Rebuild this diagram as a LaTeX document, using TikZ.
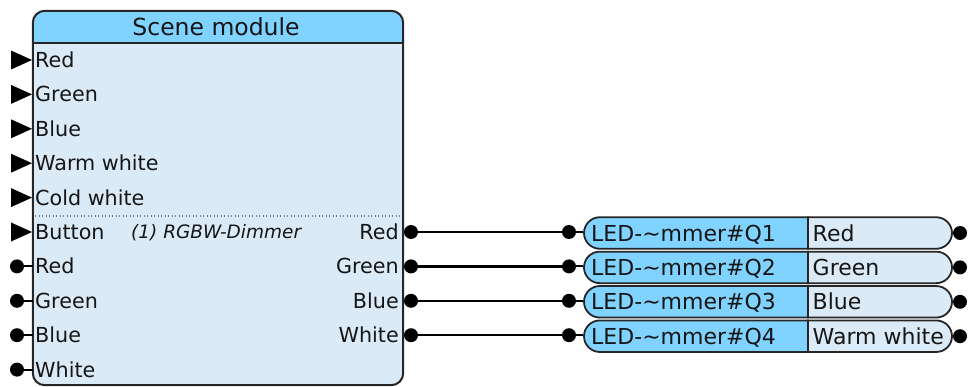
\documentclass[tikz,border=0pt]{standalone}
\usepackage{fontspec}
\setmainfont{DejaVu Sans}
\usetikzlibrary{shapes.misc}
\definecolor{headc}{RGB}{128,210,255}
\definecolor{bodyc}{RGB}{218,235,247}
\definecolor{edgec}{RGB}{38,38,38}
\definecolor{txtc}{RGB}{22,22,22}
\begin{document}
\begin{tikzpicture}[x=1pt,y=-1pt,
  lbl/.style={anchor=base west, inner sep=0pt, font=\fontsize{20.7}{24}\selectfont, text=txtc},
  rlbl/.style={anchor=base east, inner sep=0pt, font=\fontsize{20.7}{24}\selectfont, text=txtc},
  ledlbl/.style={anchor=base west, inner sep=0pt, font=\fontsize{22}{26}\selectfont, text=txtc},
  pinc/.style={circle, fill=black, inner sep=0pt, minimum size=14pt},
  wire/.style={line width=2.4pt, draw=black},
  stub/.style={line width=2pt, draw=black},
  ledleft/.style={rounded rectangle, rounded rectangle right arc=none, draw=edgec, line width=1.8pt, fill=headc, minimum width=224pt, minimum height=31.5pt, inner sep=0pt},
  ledright/.style={rounded rectangle, rounded rectangle left arc=none, draw=edgec, line width=1.8pt, fill=bodyc, minimum width=144pt, minimum height=31.5pt, inner sep=0pt},
  intri/.style={fill=black}
]
\useasboundingbox (0,0) rectangle (968,387);
\clip (0,0) rectangle (968,387);

% main block
\node[fill=bodyc, rounded corners=12pt, minimum width=370pt, minimum height=374pt, inner sep=0pt] (scene) at (218,198) {};
\begin{scope}
\clip[rounded corners=12pt] (scene.north west) rectangle (scene.south east);
\fill[headc] (scene.north west) rectangle ([yshift=-32pt]scene.north east);
\end{scope}
\draw[edgec, line width=2pt] ([yshift=-32pt]scene.north west) -- ([yshift=-32pt]scene.north east);
\draw[gray, line width=1.1pt, dash pattern=on 1.2pt off 2.3pt] (35,216) -- (402,216);
\draw[edgec, line width=2pt, rounded corners=12pt] (scene.north west) rectangle (scene.south east);
\node[font=\fontsize{23.5}{27}\selectfont, text=txtc] (title) at (216,27) {Scene module};

% inputs with triangles
\foreach \y in {60,94.4,128.8,163.2,197.6,232}{
  \fill[intri] (11,\y-9.5) -- (32,\y) -- (11,\y+9.5) -- cycle;
}
\node[lbl] (inR) at (35,67.5) {Red};
\node[lbl] (inG) at (35,101.9) {Green};
\node[lbl] (inB) at (35,136.3) {Blue};
\node[lbl] (inWW) at (35,170.7) {Warm white};
\node[lbl] (inCW) at (35,205.1) {Cold white};
\node[lbl] (inBt) at (35,239.5) {Button};
\node[anchor=base west, inner sep=0pt, font=\fontsize{18.5}{22}\selectfont\itshape, text=txtc] (dim) at (131,239) {(1) RGBW-Dimmer};

% inputs with circles
\node[pinc] (ci1) at (17,266.4) {};
\node[pinc] (ci2) at (17,300.8) {};
\node[pinc] (ci3) at (17,335.2) {};
\node[pinc] (ci4) at (17,369.6) {};
\foreach \n in {ci1,ci2,ci3,ci4}{\draw[stub] (\n) -- (\n -| scene.west);}
\node[lbl] (inR2) at (35,273.9) {Red};
\node[lbl] (inG2) at (35,308.3) {Green};
\node[lbl] (inB2) at (35,342.7) {Blue};
\node[lbl] (inW2) at (35,377.1) {White};

% outputs
\node[rlbl] (oR) at (399,239.5) {Red};
\node[rlbl] (oG) at (399,273.9) {Green};
\node[rlbl] (oB) at (399,308.3) {Blue};
\node[rlbl] (oW) at (399,342.7) {White};

\foreach \i/\y/\txt in {1/233/Red,2/267.4/Green,3/301.8/Blue,4/336.2/Warm white}{
  \node[ledleft] (d\i) at (696,\y) {};
  \node[ledright] (l\i) at (880,\y) {};
  \node[ledlbl] (q\i) at (591,\y+8) {LED-\textasciitilde mmer\#Q\i};
  \node[ledlbl] (t\i) at (812.5,\y+8) {\txt};
  \node[pinc] (o\i) at (411,\y-1) {};
  \node[pinc] (p\i) at (569,\y-1) {};
  \node[pinc] (r\i) at (960,\y) {};
  \draw[wire] (o\i) -- (p\i);
  \draw[stub] (p\i.east) -- (p\i.east -| d\i.west);
}
\end{tikzpicture}
\end{document}
